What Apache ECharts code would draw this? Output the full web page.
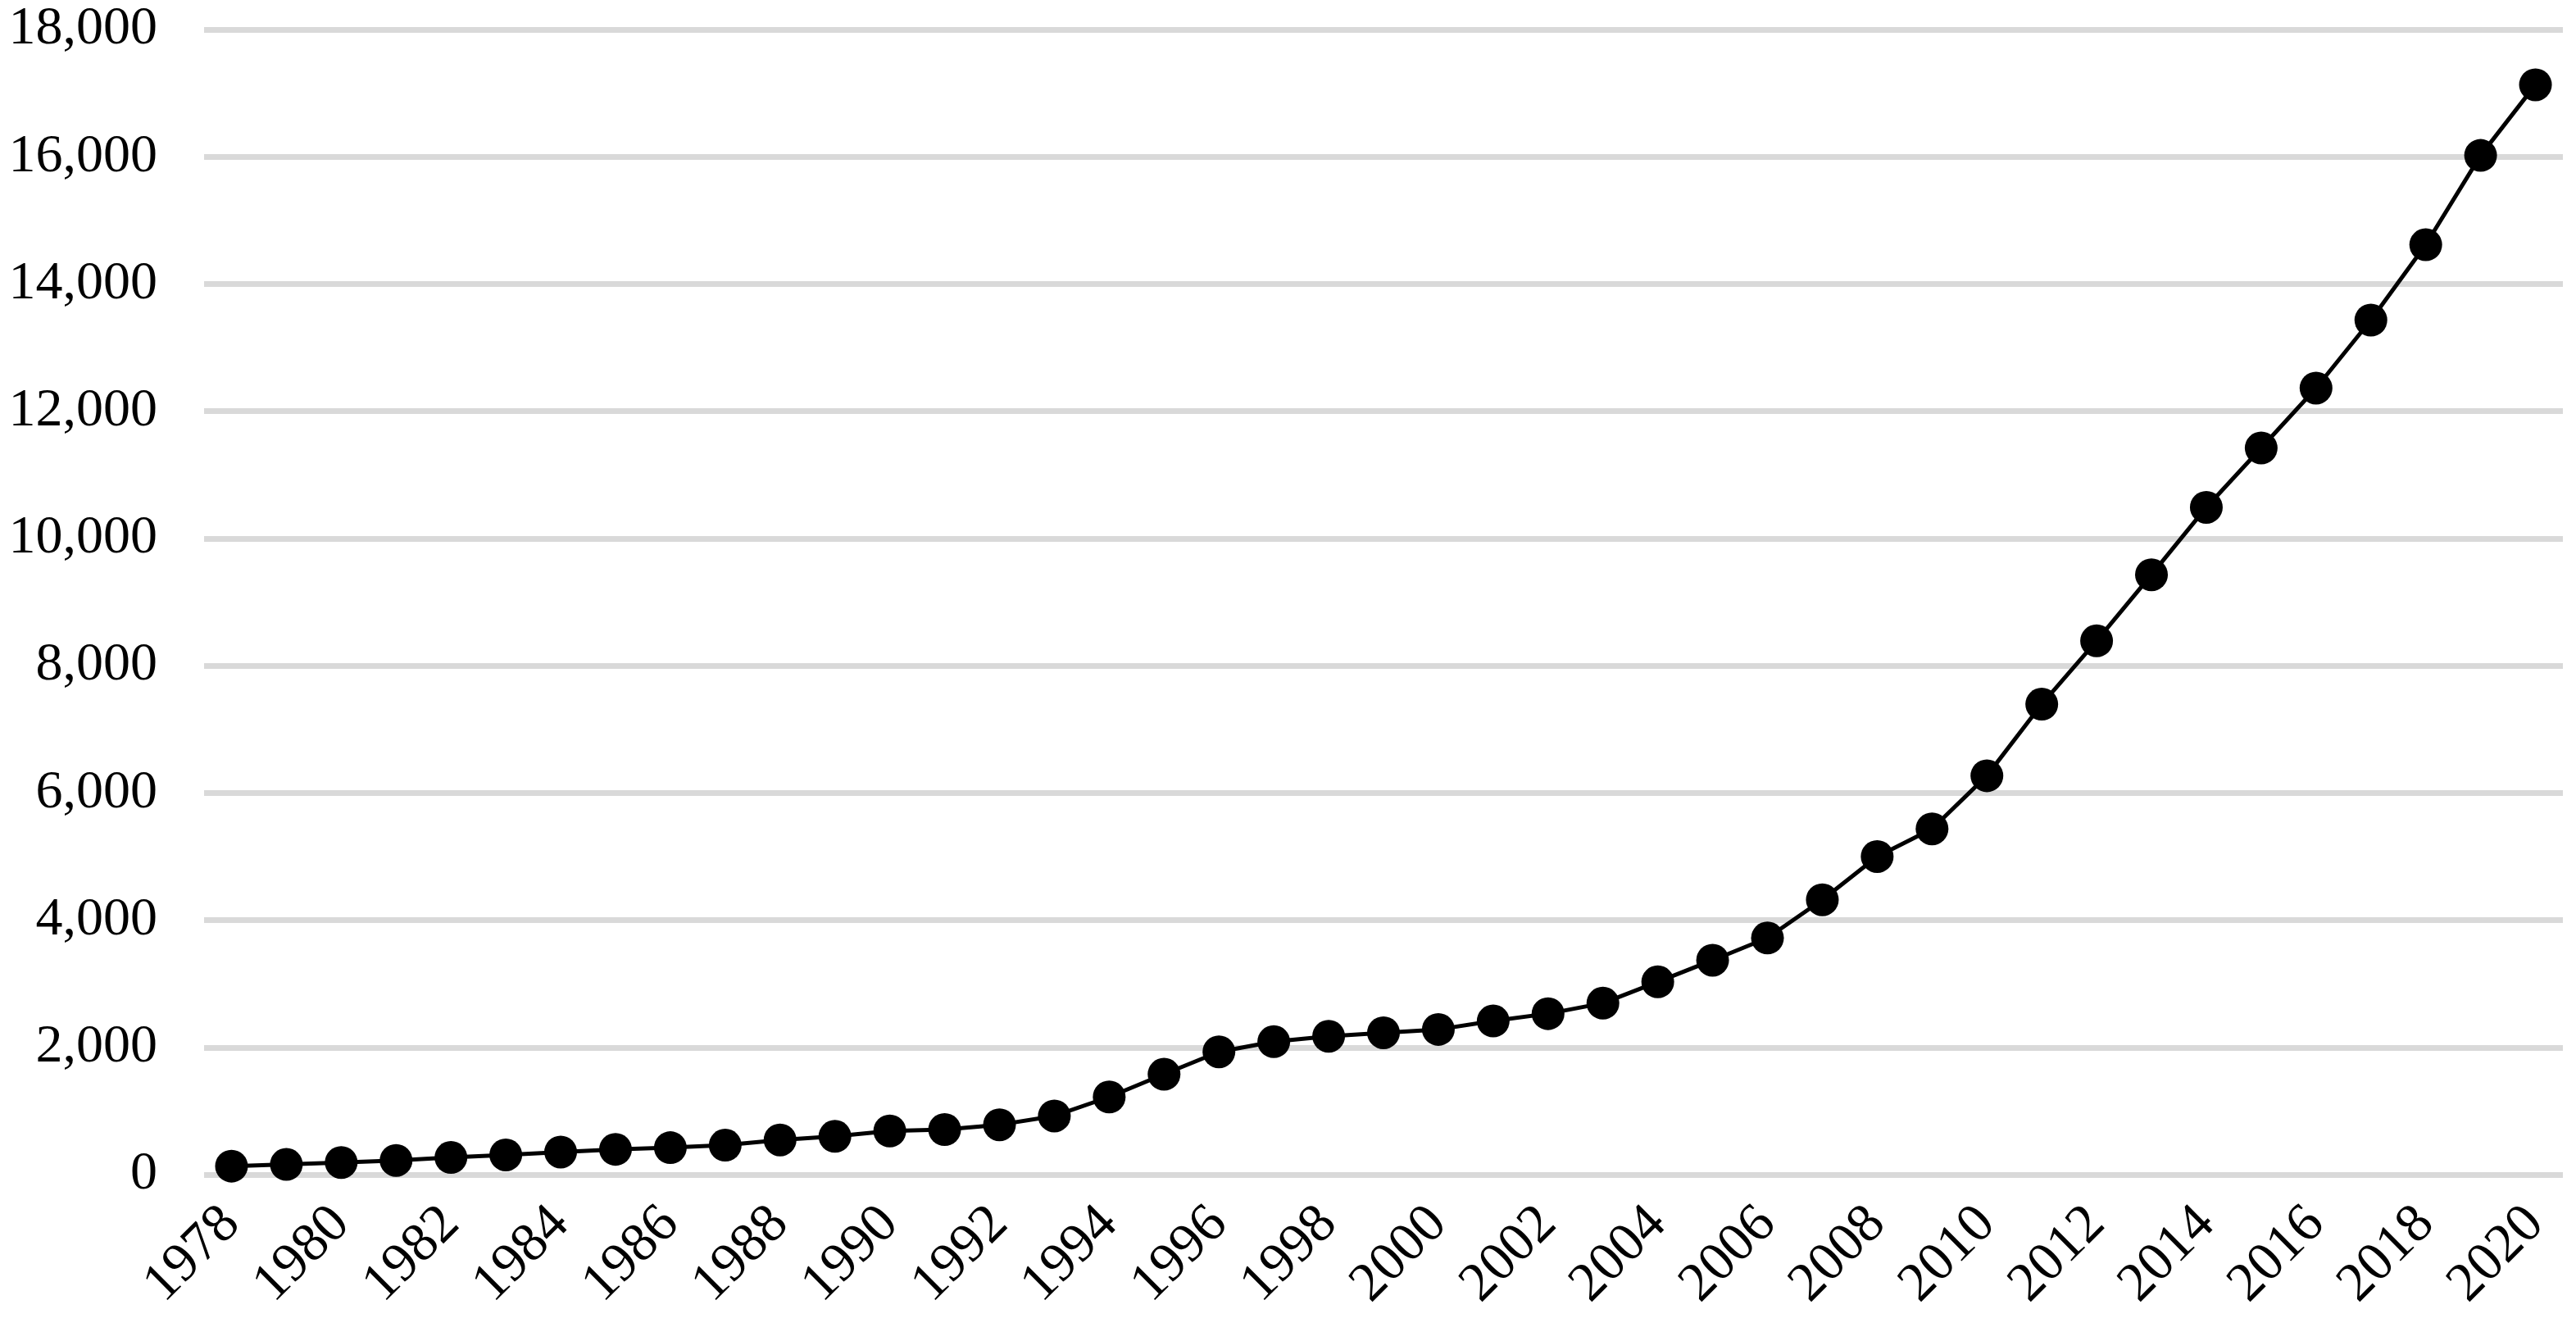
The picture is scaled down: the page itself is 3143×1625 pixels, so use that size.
<!DOCTYPE html>
<html>
<head>
<meta charset="utf-8">
<script src="https://cdn.jsdelivr.net/npm/echarts@6/dist/echarts.min.js"></script>
<style>
html,body{margin:0;padding:0;background:#fff;}
#chart{width:3143px;height:1625px;}
</style>
</head>
<body>
<div id="chart"></div>
<script>
const years = ["1978","1979","1980","1981","1982","1983","1984","1985","1986","1987","1988","1989","1990","1991","1992","1993","1994","1995","1996","1997","1998","1999","2000","2001","2002","2003","2004","2005","2006","2007","2008","2009","2010","2011","2012","2013","2014","2015","2016","2017","2018","2019","2020"];
const values = [133.6,160.2,191.3,223.4,270.1,309.8,355.3,397.6,423.8,462.6,544.9,601.5,686.3,708.6,784.0,921.6,1221.0,1577.7,1930,2090,2175,2230,2282,2415,2530,2695,3030,3370,3720,4320,5000,5435,6270,7395,8390,9429.6,10488.9,11421.7,12363.4,13432.4,14617.0,16020.7,17131.5];
const yMin = 0, yMax = 18000, yStep = 2000;

const chart = echarts.init(document.getElementById('chart'), null, {renderer: 'canvas'});
const font = '"Liberation Serif","Times New Roman",serif';
chart.setOption({
  animation: false,
  backgroundColor: '#ffffff',
  grid: {left: 249, right: 16, top: 36, bottom: 192, containLabel: false},
  xAxis: {
    type: 'category',
    data: years,
    boundaryGap: true,
    axisLine: {show: false},
    axisTick: {show: false},
    axisLabel: {
      interval: 1,
      rotate: 45,
      margin: 50,
      color: '#000',
      fontFamily: font,
      fontSize: 67
    }
  },
  yAxis: {
    type: 'value',
    min: yMin, max: yMax, interval: yStep,
    axisLine: {show: false},
    axisTick: {show: false},
    splitLine: {show: true, lineStyle: {color: '#d9d9d9', width: 7}},
    axisLabel: {
      margin: 57,
      color: '#000',
      fontFamily: font,
      fontSize: 66,
      formatter: v => v.toLocaleString('en-US')
    }
  },
  series: [{
    type: 'line',
    data: values,
    symbol: 'circle',
    symbolSize: 40,
    lineStyle: {color: '#000', width: 5},
    itemStyle: {color: '#000'}
  }]
});
</script>
</body>
</html>
